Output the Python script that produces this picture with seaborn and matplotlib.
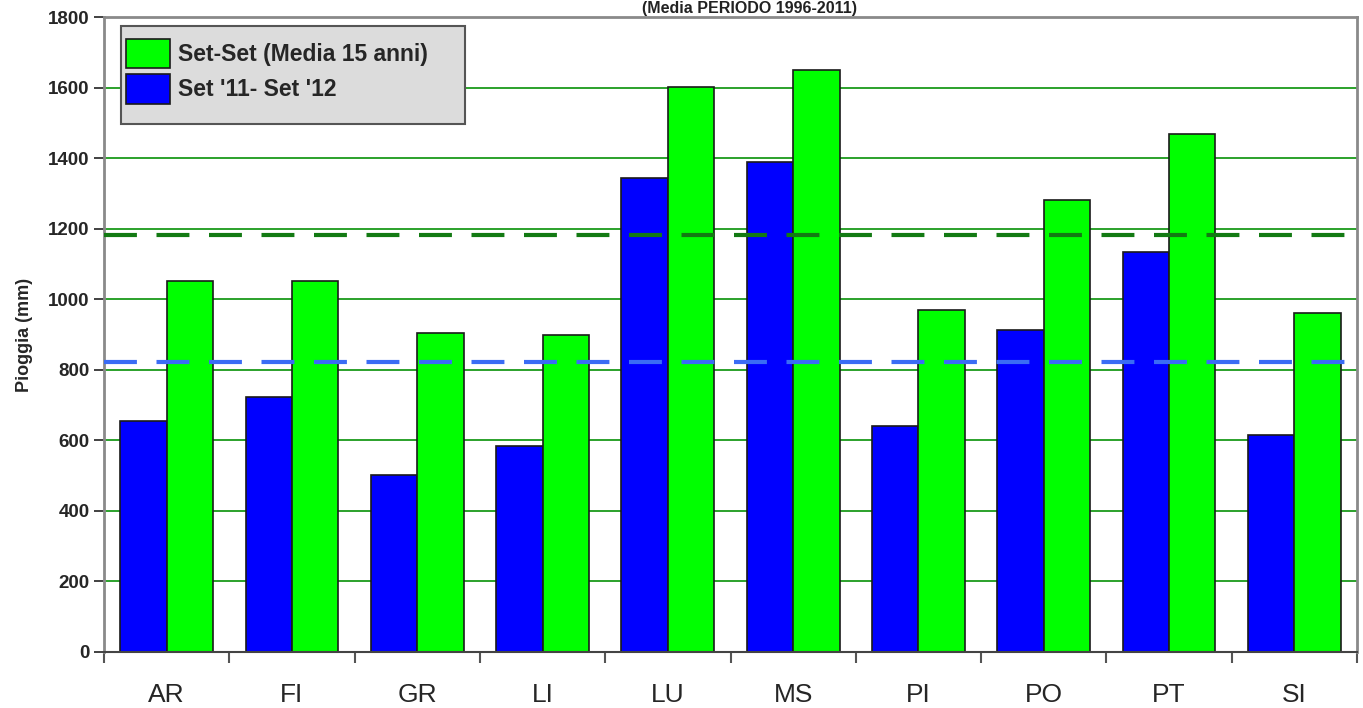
import pandas as pd
import matplotlib.pyplot as plt
import seaborn as sns
from matplotlib.patches import Rectangle

# data
province = ['AR', 'FI', 'GR', 'LI', 'LU', 'MS', 'PI', 'PO', 'PT', 'SI']
set_11_12 = [655, 723, 502, 584, 1344, 1389, 641, 913, 1134, 615]
media_15_anni = [1052, 1052, 904, 899, 1601, 1650, 969, 1281, 1468, 961]
linea_media_15 = 1182
linea_11_12 = 822

lab_blue = "Set '11- Set '12"
lab_green = "Set-Set (Media 15 anni)"
yticks = list(range(0, 1801, 200))

df = pd.DataFrame({
    'Provincia': province * 2,
    'Pioggia': set_11_12 + media_15_anni,
    'Serie': [lab_blue] * len(province) + [lab_green] * len(province),
})

sns.set_style('white')
plt.rcParams['font.family'] = ['Liberation Sans', 'DejaVu Sans']

W, H = 1363, 708
fig = plt.figure(figsize=(W / 100, H / 100), dpi=100)
ax = fig.add_axes([104 / W, 1 - 652 / H, 1253 / W, 635 / H])

sns.barplot(data=df, x='Provincia', y='Pioggia', hue='Serie',
            hue_order=[lab_blue, lab_green], palette=['#0000ff', '#00ff00'],
            saturation=1, width=0.74, gap=0, errorbar=None,
            edgecolor='#1a1a1a', linewidth=1.2, ax=ax, zorder=2)

# dashed reference lines
ax.axhline(linea_media_15, color='#137a13', lw=3, ls=(0, (7.9, 4.7)),
           dash_capstyle='butt', zorder=4)
ax.axhline(linea_11_12, color='#3a6cf5', lw=3, ls=(0, (7.9, 4.7)),
           dash_capstyle='butt', zorder=4)

ax.set_xlim(-0.5, len(province) - 0.5)
ax.set_ylim(0, 1800)
ax.set_yticks(yticks)
ax.yaxis.grid(True, color='#1a9a1a', lw=1.3)
ax.set_axisbelow(True)

ax.set_xticks(range(len(province)))
ax.set_xticklabels(province, fontsize=19)
ax.set_xticks([i - 0.5 for i in range(len(province) + 1)], minor=True)
ax.tick_params(axis='x', which='major', length=0, pad=22)
ax.tick_params(axis='x', which='minor', length=8, width=1.5,
               color='#555555', direction='out', bottom=True)
ax.tick_params(axis='y', length=7, width=1.3, color='#333333',
               direction='out', left=True, labelsize=13.5)
for t in ax.get_yticklabels():
    t.set_fontweight('bold')

ax.set_xlabel('')
ax.set_ylabel('Pioggia (mm)', fontsize=13, fontweight='bold', labelpad=11)

for side in ['left', 'top', 'right']:
    ax.spines[side].set_color('#8a8a8a')
    ax.spines[side].set_linewidth(2)
ax.spines['bottom'].set_color('#444444')
ax.spines['bottom'].set_linewidth(1.5)

# legend box (gray panel), then the entries on top: green first, blue second
ax.add_patch(Rectangle((17 / 1253, (652 - 124) / 635), 344 / 1253, 98 / 635,
                       transform=ax.transAxes, facecolor='#dcdcdc',
                       edgecolor='#555555', lw=1.5, zorder=5, clip_on=False))
handles, labels = ax.get_legend_handles_labels()
leg = ax.legend(handles[::-1], labels[::-1], loc='upper left',
                bbox_to_anchor=(22 / 1253, (652 - 39) / 635),
                borderaxespad=0, borderpad=0, frameon=False,
                prop={'weight': 'bold', 'size': 16.5},
                handlelength=1.92, handleheight=1.6,
                labelspacing=0.25, handletextpad=0.36)
leg.set_zorder(6)

# title at the top edge of the image
fig.text(0.55, 1 - 13 / H, '(Media PERIODO 1996-2011)', ha='center',
         va='baseline', fontsize=11.5, fontweight='bold', color='#222222')

fig.savefig('out.png', dpi=100)
